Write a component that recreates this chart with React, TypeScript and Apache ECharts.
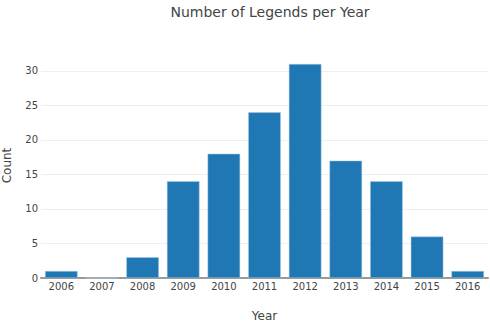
import React, { useEffect, useRef } from "react";
import * as echarts from "echarts";

const years = ["2006", "2007", "2008", "2009", "2010", "2011", "2012", "2013", "2014", "2015", "2016"];
const counts = [1, 0, 3, 14, 18, 24, 31, 17, 14, 6, 1];
const yTicks = [0, 5, 10, 15, 20, 25, 30];

export default function App() {
  const ref = useRef<HTMLDivElement>(null);
  useEffect(() => {
    const chart = echarts.init(ref.current!, null, { renderer: "svg" });
    const font = "DejaVu Sans";
    chart.setOption({
      animation: false,
      title: {
        text: "Number of Legends per Year",
        left: 265,
        textAlign: "center",
        top: -1,
        textStyle: { fontFamily: font, fontSize: 14, lineHeight: 16, fontWeight: "normal", color: "#444" },
      },
      grid: { left: 41, right: 2, top: 53, bottom: 44, outerBoundsMode: "none", containLabel: false },
      xAxis: {
        type: "category",
        data: years,
        name: "Year",
        nameLocation: "middle",
        nameGap: 32,
        nameTextStyle: { fontFamily: font, fontSize: 12, lineHeight: 12, color: "#444" },
        axisLine: { show: true, lineStyle: { color: "#999", width: 2 } },
        axisTick: { show: false },
        axisLabel: { fontFamily: font, fontSize: 10, color: "#444", margin: 3 },
      },
      yAxis: {
        type: "value",
        min: 0,
        max: 32.6,
        interval: 5,
        name: "Count",
        nameLocation: "middle",
        nameGap: 28,
        nameTextStyle: { fontFamily: font, fontSize: 12, lineHeight: 12, color: "#444" },
        axisLine: { show: false },
        axisTick: { show: false },
        splitLine: { showMaxLine: false, lineStyle: { color: "#eee", width: 1 } },
        axisLabel: {
          fontFamily: font,
          fontSize: 10,
          color: "#444",
          margin: 3,
          showMaxLabel: false,
          formatter: (v: number) => (yTicks.includes(v) ? String(v) : ""),
        },
      },
      series: [
        {
          type: "bar",
          data: counts,
          barCategoryGap: "20%",
          itemStyle: { color: "#1f77b4", borderColor: "#a6c8e0", borderWidth: 0.5 },
        },
      ],
    });
    return () => chart.dispose();
  }, []);
  return (
    <div
      ref={ref}
      style={{ position: "absolute", left: 0, top: 0, width: 490, height: 322 }}
    />
  );
}
